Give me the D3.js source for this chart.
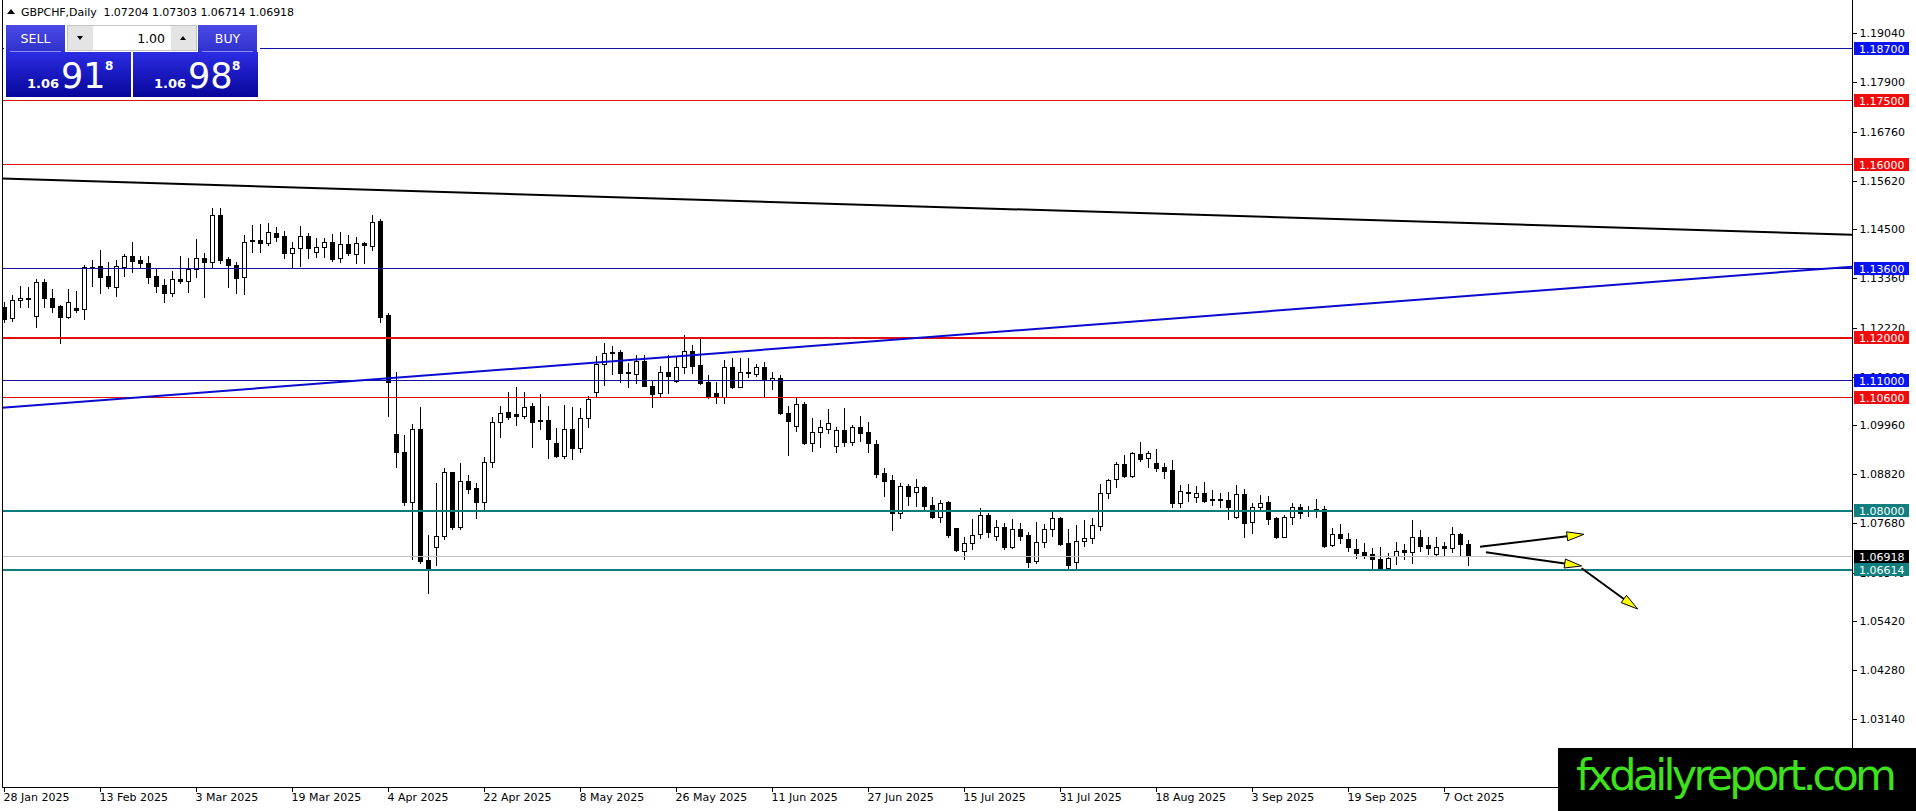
<!DOCTYPE html>
<html>
<head>
<meta charset="utf-8">
<script src="https://cdn.jsdelivr.net/npm/d3@7"></script>
<style>
  html, body { margin: 0; padding: 0; background: #fff; overflow: hidden; }
  svg { display: block; }
  text { font-family: "DejaVu Sans", sans-serif; }
</style>
</head>
<body>
<svg id="chart" width="1916" height="811"></svg>
<script>
// ---- data ----
const symbolTitle = "GBPCHF,Daily  1.07204 1.07303 1.06714 1.06918";
const dateLabels = ["28 Jan 2025", "13 Feb 2025", "3 Mar 2025", "19 Mar 2025", "4 Apr 2025", "22 Apr 2025",
  "8 May 2025", "26 May 2025", "11 Jun 2025", "27 Jun 2025", "15 Jul 2025", "31 Jul 2025",
  "18 Aug 2025", "3 Sep 2025", "19 Sep 2025", "7 Oct 2025"];
const priceTicks = [1.19040, 1.17900, 1.16760, 1.15620, 1.14500, 1.13360, 1.12220, 1.11080,
  1.09960, 1.08820, 1.07680, 1.06540, 1.05420, 1.04280, 1.03140];

const opens = [
  1.12704, 1.12433, 1.12850, 1.12889, 1.12495, 1.13283, 1.12897, 1.12719, 1.12456, 1.12681,
  1.12642, 1.13615, 1.13646, 1.13414, 1.13167, 1.13631, 1.13878, 1.13785, 1.13724, 1.13414,
  1.13206, 1.13028, 1.13345, 1.13306, 1.13569, 1.13824, 1.13747, 1.14828, 1.13801, 1.13662,
  1.13384, 1.14241, 1.14241, 1.14172, 1.14403, 1.14342, 1.13940, 1.14056, 1.14342, 1.13963,
  1.14079, 1.14195, 1.13824, 1.14156, 1.13924, 1.14187, 1.14118, 1.14697, 1.12511, 1.09752,
  1.09327, 1.08169, 1.09861, 1.06832, 1.07126, 1.07396, 1.08864, 1.07605, 1.08671, 1.08493,
  1.08169, 1.09096, 1.10038, 1.10255, 1.10208, 1.10170, 1.10401, 1.10069, 1.10077, 1.09536,
  1.09250, 1.09868, 1.09420, 1.10115, 1.10734, 1.11375, 1.11645, 1.11661, 1.11189, 1.11143,
  1.11444, 1.10865, 1.10695, 1.11182, 1.10989, 1.11298, 1.11676, 1.11352, 1.10950, 1.10695,
  1.10618, 1.11313, 1.10849, 1.11197, 1.11135, 1.11298, 1.11005, 1.11043, 1.10232, 1.09946,
  1.10441, 1.09552, 1.09807, 1.09869, 1.09483, 1.09846, 1.09575, 1.09908, 1.09792, 1.09514,
  1.08841, 1.08687, 1.07914, 1.08548, 1.08416, 1.08517, 1.08100, 1.07837, 1.08177, 1.07567,
  1.07049, 1.07219, 1.07428, 1.07876, 1.07397, 1.07590, 1.07142, 1.07543, 1.07404, 1.06817,
  1.07258, 1.07543, 1.07798, 1.07219, 1.06779, 1.07281, 1.07335, 1.07628, 1.08378, 1.08702,
  1.09050, 1.08780, 1.09282, 1.09189, 1.09073, 1.08980, 1.08918, 1.08145, 1.08393, 1.08285,
  1.08377, 1.08238, 1.08238, 1.08223, 1.07821, 1.08354, 1.07705, 1.08053, 1.08184, 1.07798,
  1.07373, 1.07821, 1.08053, 1.07976, 1.08006, 1.08006, 1.07180, 1.07427, 1.07319, 1.07079,
  1.07010, 1.06963, 1.06848, 1.06639, 1.06933, 1.07064, 1.07025, 1.07357, 1.07180, 1.06963,
  1.07157, 1.07102, 1.07427, 1.07204];
const highs = [
  1.12820, 1.12974, 1.13183, 1.13152, 1.13345, 1.13337, 1.13105, 1.12742, 1.13105, 1.13067,
  1.13669, 1.13785, 1.14017, 1.13747, 1.13785, 1.13924, 1.14210, 1.13878, 1.13878, 1.13592,
  1.13337, 1.13538, 1.13878, 1.13824, 1.14264, 1.13955, 1.14983, 1.14983, 1.13847, 1.13747,
  1.14365, 1.14597, 1.14620, 1.14651, 1.14542, 1.14465, 1.14210, 1.14573, 1.14403, 1.14288,
  1.14288, 1.14388, 1.14442, 1.14365, 1.14311, 1.14210, 1.14828, 1.14728, 1.12565, 1.11197,
  1.09729, 1.09984, 1.10370, 1.07411, 1.08624, 1.08972, 1.08879, 1.09072, 1.08802, 1.08609,
  1.09212, 1.10139, 1.10401, 1.10734, 1.10834, 1.10734, 1.10479, 1.10680, 1.10401, 1.09884,
  1.10425, 1.10386, 1.10347, 1.10633, 1.11560, 1.11869, 1.11792, 1.11699, 1.11406, 1.11583,
  1.11583, 1.10989, 1.11328, 1.11583, 1.11545, 1.12047, 1.11815, 1.11993, 1.11120, 1.10965,
  1.11468, 1.11506, 1.11506, 1.11506, 1.11375, 1.11429, 1.11198, 1.11121, 1.10402, 1.10580,
  1.10502, 1.10116, 1.10078, 1.10325, 1.09908, 1.10348, 1.09962, 1.10170, 1.10039, 1.09614,
  1.08957, 1.08803, 1.08625, 1.08594, 1.08702, 1.08548, 1.08301, 1.08223, 1.08208, 1.07582,
  1.07358, 1.07775, 1.08030, 1.07914, 1.07760, 1.07698, 1.07775, 1.07682, 1.07489, 1.07721,
  1.07667, 1.07976, 1.07837, 1.07543, 1.07644, 1.07760, 1.07798, 1.08586, 1.08702, 1.09112,
  1.09266, 1.09344, 1.09560, 1.09367, 1.09397, 1.09088, 1.09150, 1.08570, 1.08594, 1.08547,
  1.08648, 1.08455, 1.08393, 1.08416, 1.08570, 1.08470, 1.08161, 1.08339, 1.08315, 1.07821,
  1.07875, 1.08145, 1.08130, 1.08084, 1.08238, 1.08084, 1.07566, 1.07667, 1.07450, 1.07311,
  1.07218, 1.07102, 1.07126, 1.07002, 1.07257, 1.07203, 1.07759, 1.07527, 1.07357, 1.07373,
  1.07257, 1.07589, 1.07450, 1.07303];
const lows = [
  1.12348, 1.12379, 1.12704, 1.12688, 1.12240, 1.12688, 1.12588, 1.11869, 1.12433, 1.12588,
  1.12410, 1.13183, 1.13028, 1.13129, 1.12951, 1.13414, 1.13515, 1.13592, 1.13244, 1.13051,
  1.12820, 1.12951, 1.13260, 1.13051, 1.13399, 1.12935, 1.13592, 1.13708, 1.13167, 1.13013,
  1.12990, 1.13978, 1.13978, 1.14133, 1.14233, 1.13824, 1.13592, 1.13654, 1.13824, 1.13863,
  1.13847, 1.13770, 1.13747, 1.13901, 1.13724, 1.13708, 1.14017, 1.12356, 1.10170, 1.08980,
  1.08107, 1.06847, 1.06755, 1.06075, 1.06716, 1.07311, 1.07543, 1.07543, 1.08393, 1.07798,
  1.07975, 1.08980, 1.09691, 1.10092, 1.09961, 1.10115, 1.09459, 1.09861, 1.09188, 1.09227,
  1.09188, 1.09165, 1.09343, 1.09907, 1.10633, 1.10888, 1.11143, 1.10965, 1.10849, 1.10942,
  1.10865, 1.10370, 1.10602, 1.10710, 1.10965, 1.11174, 1.11158, 1.10911, 1.10579, 1.10463,
  1.10463, 1.10811, 1.10834, 1.11066, 1.11097, 1.10633, 1.10788, 1.10217, 1.09266, 1.09830,
  1.09521, 1.09367, 1.09459, 1.09768, 1.09344, 1.09475, 1.09498, 1.09599, 1.09344, 1.08749,
  1.08316, 1.07528, 1.07798, 1.08107, 1.08084, 1.08007, 1.07798, 1.07721, 1.07373, 1.07049,
  1.06856, 1.07088, 1.07350, 1.07373, 1.07296, 1.07088, 1.07103, 1.07296, 1.06678, 1.06755,
  1.07142, 1.07397, 1.07180, 1.06601, 1.06601, 1.07165, 1.07234, 1.07528, 1.08277, 1.08517,
  1.08749, 1.08764, 1.09135, 1.08996, 1.08903, 1.08725, 1.08053, 1.08068, 1.08200, 1.08184,
  1.08184, 1.08107, 1.08053, 1.07775, 1.07798, 1.07373, 1.07466, 1.08006, 1.07667, 1.07350,
  1.07358, 1.07659, 1.07798, 1.07852, 1.07836, 1.07141, 1.07157, 1.07234, 1.07048, 1.06871,
  1.06871, 1.06654, 1.06600, 1.06600, 1.06739, 1.06848, 1.06770, 1.07048, 1.06971, 1.06925,
  1.06925, 1.07025, 1.06925, 1.06714];
const closes = [
  1.12410, 1.12858, 1.12897, 1.12905, 1.13268, 1.12897, 1.12704, 1.12456, 1.12804, 1.12626,
  1.13615, 1.13592, 1.13399, 1.13183, 1.13646, 1.13878, 1.13770, 1.13708, 1.13399, 1.13190,
  1.13028, 1.13337, 1.13299, 1.13569, 1.13824, 1.13747, 1.14828, 1.13785, 1.13662, 1.13376,
  1.14210, 1.14218, 1.14172, 1.14427, 1.14326, 1.13940, 1.14056, 1.14342, 1.14056, 1.14079,
  1.14195, 1.13809, 1.14156, 1.13940, 1.14172, 1.14141, 1.14674, 1.12472, 1.10965, 1.09343,
  1.08169, 1.09861, 1.06816, 1.06654, 1.07396, 1.08864, 1.07605, 1.08671, 1.08470, 1.08184,
  1.09096, 1.10038, 1.10247, 1.10154, 1.10170, 1.10386, 1.10038, 1.10046, 1.09629, 1.09250,
  1.09868, 1.09420, 1.10115, 1.10556, 1.11375, 1.11622, 1.11622, 1.11158, 1.11158, 1.11444,
  1.10873, 1.10672, 1.11182, 1.11104, 1.11298, 1.11676, 1.11336, 1.10942, 1.10633, 1.10602,
  1.11313, 1.10849, 1.11182, 1.11174, 1.11298, 1.11004, 1.11043, 1.10232, 1.10062, 1.10441,
  1.09552, 1.09807, 1.09908, 1.10000, 1.09846, 1.09575, 1.09908, 1.09784, 1.09552, 1.08826,
  1.08671, 1.07914, 1.08548, 1.08324, 1.08517, 1.08084, 1.07837, 1.08162, 1.07412, 1.07064,
  1.07219, 1.07404, 1.07876, 1.07474, 1.07590, 1.07142, 1.07543, 1.07397, 1.06794, 1.07258,
  1.07543, 1.07798, 1.07203, 1.06717, 1.07281, 1.07335, 1.07644, 1.08378, 1.08687, 1.09050,
  1.08780, 1.09305, 1.09174, 1.09320, 1.08972, 1.08903, 1.08145, 1.08431, 1.08408, 1.08377,
  1.08207, 1.08230, 1.08223, 1.08068, 1.08354, 1.07697, 1.08053, 1.08161, 1.07775, 1.07373,
  1.07821, 1.08053, 1.07929, 1.07968, 1.07999, 1.07157, 1.07427, 1.07334, 1.07141, 1.07002,
  1.06956, 1.06848, 1.06639, 1.06871, 1.07048, 1.07010, 1.07357, 1.07164, 1.07118, 1.07126,
  1.07102, 1.07427, 1.07195, 1.06918];

// horizontal levels and their kind
const levelPrices = [1.18700, 1.17500, 1.16000, 1.13600, 1.12000, 1.11000, 1.10600, 1.08000, 1.06614];
const levelKinds  = ["blue", "red", "red", "blue", "redBold", "blue", "red", "teal", "teal"];
const bidPrice = 1.06918;

// trend lines and arrows as [bar index, price]
const trendBlack = [[-0.25, 1.15672], [231, 1.14372]];
const trendBlue  = [[-0.25, 1.10360], [231, 1.13630]];
const arrows = [
  [[184.5, 1.07141], [197.5, 1.07428]],
  [[185.25, 1.07011], [197.2, 1.06694]],
  [[197.2, 1.06640], [204.2, 1.05697]]
];

// ---- layout ----
const W = 1916, H = 811;
const plotLeft = 2, plotRight = 1852, plotTop = 0, plotBottom = 787;

const x = d3.scaleLinear().domain([0, closes.length - 1]).range([4, 4 + 8 * (closes.length - 1)]);
const y = d3.scaleLinear().domain([1.01571, 1.19765]).range([plotBottom, 2]);

const styles = {
  blue:    { color: "#12129e", width: 1, label: "#0a14f0" },
  red:     { color: "#e01010", width: 1, label: "#f00c0c" },
  redBold: { color: "#e01010", width: 2, label: "#f00c0c" },
  teal:    { color: "#0f7c7c", width: 2, label: "#117f7f" }
};

const svg = d3.select("#chart");
const defs = svg.append("defs");
const clip = defs.append("clipPath").attr("id", "plotclip");
clip.append("rect").attr("x", plotLeft).attr("y", plotTop)
  .attr("width", plotRight - plotLeft).attr("height", plotBottom - plotTop);

const plot = svg.append("g").attr("clip-path", "url(#plotclip)");

// candles
const idx = d3.range(closes.length);
const cg = plot.append("g").attr("shape-rendering", "crispEdges");
cg.selectAll("line.wick")
  .data(idx)
  .join("line")
    .attr("class", "wick")
    .attr("x1", (i) => Math.round(x(i)) + 0.5)
    .attr("x2", (i) => Math.round(x(i)) + 0.5)
    .attr("y1", (i) => Math.round(y(highs[i])))
    .attr("y2", (i) => Math.round(y(lows[i])) + 1)
    .attr("stroke", "#000")
    .attr("stroke-width", 1);

cg.selectAll("path.body")
  .data(idx)
  .join("path")
    .attr("class", "body")
    .attr("d", (i) => {
      const cx = Math.round(x(i));
      const top = Math.round(y(Math.max(opens[i], closes[i]))) + 0.5;
      const bot = Math.round(y(Math.min(opens[i], closes[i]))) + 0.5;
      return `M${cx - 1.5},${top}H${cx + 2.5}V${bot}H${cx - 1.5}Z`;
    })
    .attr("fill", (i) => closes[i] > opens[i] ? "#fff" : "#000")
    .attr("stroke", "#000")
    .attr("stroke-width", 1);

// horizontal levels
const lg = plot.append("g").attr("shape-rendering", "crispEdges");
lg.selectAll("line.level")
  .data(levelPrices)
  .join("line")
    .attr("class", "level")
    .attr("x1", plotLeft).attr("x2", plotRight)
    .attr("y1", (d) => Math.round(y(d)) + 0.5)
    .attr("y2", (d) => Math.round(y(d)) + 0.5)
    .attr("stroke", (d, i) => styles[levelKinds[i]].color)
    .attr("stroke-width", (d, i) => styles[levelKinds[i]].width);

lg.append("line")
  .attr("x1", plotLeft).attr("x2", plotRight)
  .attr("y1", Math.round(y(bidPrice)) + 0.5).attr("y2", Math.round(y(bidPrice)) + 0.5)
  .attr("stroke", "#c0c0c0").attr("stroke-width", 1);

// trend lines
const line = d3.line().x((d) => x(d[0])).y((d) => y(d[1]));
plot.append("path").attr("d", line(trendBlack)).attr("fill", "none")
  .attr("stroke", "#000").attr("stroke-width", 2);
plot.append("path").attr("d", line(trendBlue)).attr("fill", "none")
  .attr("stroke", "#0a0ad0").attr("stroke-width", 2);

// arrows
const ag = plot.append("g");
arrows.forEach((a) => {
  const x0 = x(a[0][0]), y0 = y(a[0][1]), x1 = x(a[1][0]), y1 = y(a[1][1]);
  const ang = Math.atan2(y1 - y0, x1 - x0);
  const len = 17, half = 4.5;
  const bx = x1 - len * Math.cos(ang), by = y1 - len * Math.sin(ang);
  ag.append("line").attr("x1", x0).attr("y1", y0).attr("x2", bx).attr("y2", by)
    .attr("stroke", "#000").attr("stroke-width", 2);
  const px = -Math.sin(ang) * half, py = Math.cos(ang) * half;
  ag.append("path")
    .attr("d", `M${x1},${y1}L${bx + px},${by + py}L${bx - px},${by - py}Z`)
    .attr("fill", "#ffff00").attr("stroke", "#000").attr("stroke-width", 1);
});

// frame
const fg = svg.append("g").attr("shape-rendering", "crispEdges");
fg.append("line").attr("x1", plotLeft + 0.5).attr("x2", plotLeft + 0.5).attr("y1", 0).attr("y2", plotBottom + 1)
  .attr("stroke", "#000");
fg.append("line").attr("x1", plotRight + 0.5).attr("x2", plotRight + 0.5).attr("y1", 0).attr("y2", plotBottom + 1)
  .attr("stroke", "#000");
fg.append("line").attr("x1", plotLeft).attr("x2", plotRight + 1).attr("y1", plotBottom + 0.5).attr("y2", plotBottom + 0.5)
  .attr("stroke", "#000");

// price axis
const yAxis = svg.append("g")
  .attr("transform", `translate(${plotRight + 0.5},0)`)
  .call(d3.axisRight(y).tickValues(priceTicks).tickSize(4).tickSizeOuter(0).tickPadding(3)
    .tickFormat(d3.format(".5f")))
  .call((g) => g.select(".domain").remove());
yAxis.selectAll("text").attr("font-size", 11).attr("fill", "#000")
  .attr("font-family", "DejaVu Sans");
yAxis.selectAll("line").attr("stroke", "#000").attr("shape-rendering", "crispEdges");

// date axis
const xAxis = svg.append("g")
  .attr("transform", `translate(0,${plotBottom + 0.5})`)
  .call(d3.axisBottom(x).tickValues(d3.range(0, closes.length, 12)).tickSize(4).tickSizeOuter(0)
    .tickFormat((d, i) => dateLabels[i]))
  .call((g) => g.select(".domain").remove());
xAxis.selectAll("text").attr("font-size", 11).attr("fill", "#000")
  .attr("text-anchor", "start").attr("x", -1).attr("y", 6)
  .attr("font-family", "DejaVu Sans");
xAxis.selectAll("line").attr("stroke", "#000").attr("shape-rendering", "crispEdges");

// price labels on the axis
const labelData = levelPrices.map((p, i) => ({ p, fill: styles[levelKinds[i]].label }));
labelData.push({ p: bidPrice, fill: "#000" });
const pl = svg.append("g");
pl.selectAll("rect")
  .data(labelData)
  .join("rect")
    .attr("x", plotRight + 2).attr("width", 55)
    .attr("y", (d) => Math.round(y(d.p)) - 6).attr("height", 13)
    .attr("fill", (d) => d.fill);
pl.selectAll("text")
  .data(labelData)
  .join("text")
    .attr("x", plotRight + 7)
    .attr("y", (d) => Math.round(y(d.p)) + 4.5)
    .attr("font-size", 11).attr("fill", "#fff")
    .text((d) => d3.format(".5f")(d.p));

// header
svg.append("path").attr("d", "M7,14 L11,9 L15,14 Z").attr("fill", "#000");
svg.append("text").attr("x", 21).attr("y", 16).attr("font-size", 11).attr("fill", "#000")
  .attr("textLength", 273).attr("xml:space", "preserve").style("white-space", "pre").text(symbolTitle);

// trade panel
const grad = defs.append("linearGradient").attr("id", "pbox").attr("x1", 0).attr("x2", 0).attr("y1", 0).attr("y2", 1);
grad.append("stop").attr("offset", "0%").attr("stop-color", "#2c2ce4");
grad.append("stop").attr("offset", "100%").attr("stop-color", "#06069a");
const hgrad = defs.append("linearGradient").attr("id", "hbox").attr("x1", 0).attr("x2", 0).attr("y1", 0).attr("y2", 1);
hgrad.append("stop").attr("offset", "0%").attr("stop-color", "#4a4ae6");
hgrad.append("stop").attr("offset", "100%").attr("stop-color", "#3030cc");

const panel = svg.append("g").attr("shape-rendering", "crispEdges");
panel.append("rect").attr("x", 4).attr("y", 23).attr("width", 256).attr("height", 76).attr("fill", "#fff");
[[6, "SELL"], [198, "BUY"]].forEach(([px, label]) => {
  panel.append("rect").attr("x", px).attr("y", 25).attr("width", 59).attr("height", 27).attr("fill", "url(#hbox)");
  panel.append("line").attr("x1", px + 4).attr("x2", px + 55).attr("y1", 51.5).attr("y2", 51.5)
    .attr("stroke", "#8a8af0");
  panel.append("text").attr("x", px + 29.5).attr("y", 43).attr("text-anchor", "middle")
    .attr("font-size", 12.5).attr("fill", "#fff").attr("font-family", "DejaVu Sans").text(label);
});
panel.append("rect").attr("x", 67.5).attr("y", 25.5).attr("width", 129).attr("height", 25)
  .attr("fill", "#fff").attr("stroke", "#c4c4c4");
panel.append("rect").attr("x", 68).attr("y", 26).attr("width", 25).attr("height", 24).attr("fill", "#e4e4e4");
panel.append("rect").attr("x", 171).attr("y", 26).attr("width", 25).attr("height", 24).attr("fill", "#e4e4e4");
panel.append("path").attr("d", "M77,36 L83,36 L80,40 Z").attr("fill", "#000").attr("shape-rendering", "auto");
panel.append("path").attr("d", "M180,40 L186,40 L183,36 Z").attr("fill", "#000").attr("shape-rendering", "auto");
panel.append("text").attr("x", 165).attr("y", 43).attr("text-anchor", "end").attr("font-size", 12.5)
  .attr("fill", "#000").text("1.00");

const quotes = [[6, "91"], [133, "98"]];
quotes.forEach(([px, big]) => {
  panel.append("rect").attr("x", px).attr("y", 52).attr("width", 125).attr("height", 45).attr("fill", "url(#pbox)");
  panel.append("text").attr("x", px + 21).attr("y", 88).attr("font-size", 13).attr("font-weight", "bold")
    .attr("fill", "#fff").attr("font-family", "Liberation Sans").text("1.06");
  panel.append("text").attr("x", px + 55).attr("y", 88).attr("font-size", 35)
    .attr("fill", "#fff").attr("font-family", "Liberation Sans").text(big);
  panel.append("text").attr("x", px + 99).attr("y", 70).attr("font-size", 12).attr("font-weight", "bold")
    .attr("fill", "#fff").attr("font-family", "Liberation Sans").text("8");
});

// watermark
svg.append("rect").attr("x", 1558).attr("y", 748).attr("width", W - 1558).attr("height", H - 748).attr("fill", "#000");
svg.append("text").attr("x", 1576).attr("y", 790).attr("font-size", 43).attr("fill", "#3ee21c")
  .attr("font-family", "Liberation Sans").attr("textLength", 321).text("fxdailyreport.com");
</script>
</body>
</html>
